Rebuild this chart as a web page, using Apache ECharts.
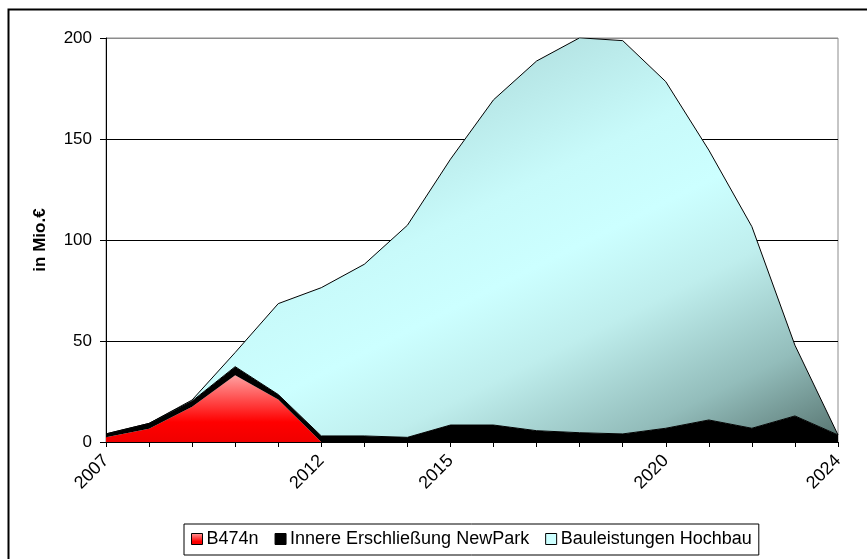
<!DOCTYPE html>
<html>
<head>
<meta charset="utf-8">
<script src="https://cdn.jsdelivr.net/npm/echarts@6/dist/echarts.min.js"></script>
<style>
html,body{margin:0;padding:0;background:#fff;}
#chart{width:867px;height:559px;}
</style>
</head>
<body>
<div id="chart"></div>
<script>
const years = ['2007','2008','2009','2010','2011','2012','2013','2014','2015','2016','2017','2018','2019','2020','2021','2022','2023','2024'];
const shownYears = ['2007','2012','2015','2020','2024'];
const seriesNames = ['B474n', 'Innere Erschließung NewPark', 'Bauleistungen Hochbau'];
const b474n = [2.3, 6.5, 17.5, 33, 21, 0, 0, 0, 0, 0, 0, 0, 0, 0, 0, 0, 0, 0];
const newPark = [1.7, 2.7, 2.8, 4.3, 2.5, 3, 3, 2.3, 8.4, 8.4, 5.6, 4.6, 4, 6.8, 10.9, 6.8, 12.9, 3.5];
const hochbau = [0, 0, 0.5, 7, 45, 73.4, 85, 105, 131.6, 161, 183, 195.5, 194.7, 171.6, 133.6, 99.8, 35, 0];
const yTicks = {min: 0, max: 200, interval: 50};

const FONT = '"Liberation Sans", Arial, sans-serif';
const chart = echarts.init(document.getElementById('chart'), null, {renderer: 'canvas'});

const redGrad = new echarts.graphic.LinearGradient(0, 0, 0, 1, [
  {offset: 0, color: '#ffa0a0'},
  {offset: 0.7, color: '#ff0000'},
  {offset: 1, color: '#f00000'}
]);
const blueGrad = new echarts.graphic.LinearGradient(112, 224, 344, 688, [
  {offset: 0, color: '#afdddd'},
  {offset: 0.29, color: '#c8fafa'},
  {offset: 0.44, color: '#ccffff'},
  {offset: 0.6, color: '#bfeeed'},
  {offset: 0.81, color: '#93bdbb'},
  {offset: 1, color: '#56736f'}
], true);

chart.setOption({
  backgroundColor: '#fff',
  animation: false,
  textStyle: {fontFamily: FONT},
  graphic: [{
    type: 'rect', left: 6, top: 7, z: 100, silent: true,
    shape: {width: 880, height: 580},
    style: {fill: 'none', stroke: '#000', lineWidth: 2}
  }],
  grid: {left: 106, right: 29, top: 38, bottom: 117, show: true, borderColor: '#8c8c8c', borderWidth: 1},
  legend: {
    left: 184, top: 524,
    padding: [6, 7, 7, 7],
    borderColor: '#000', borderWidth: 1,
    icon: 'rect', itemWidth: 11, itemHeight: 11, itemGap: 16,
    textStyle: {fontSize: 18, color: '#000', fontFamily: FONT, padding: [0, 0, 0, -1]},
    itemStyle: {borderColor: '#000', borderWidth: 1},
    data: seriesNames
  },
  xAxis: {
    type: 'category', data: years, boundaryGap: false,
    axisLine: {lineStyle: {color: '#000', width: 1}},
    axisTick: {show: true, interval: 0, length: 5, lineStyle: {color: '#000'}},
    axisLabel: {
      interval: 0, rotate: 45, margin: 16, fontSize: 18, color: '#000', fontFamily: FONT,
      formatter: v => shownYears.includes(v) ? v : ''
    },
    splitLine: {show: false}
  },
  yAxis: {
    type: 'value', min: yTicks.min, max: yTicks.max, interval: yTicks.interval,
    name: 'in Mio.€', nameLocation: 'middle', nameGap: 57,
    nameTextStyle: {fontSize: 17, fontWeight: 'bold', color: '#000', fontFamily: FONT},
    axisLine: {show: true, lineStyle: {color: '#000'}},
    axisTick: {show: true, length: 6, lineStyle: {color: '#000'}},
    axisLabel: {fontSize: 17, color: '#000', margin: 14, fontFamily: FONT},
    splitLine: {show: true, lineStyle: {color: ['#000', '#000', '#000', '#000', '#8c8c8c'], width: 1}}
  },
  series: [
    {
      name: seriesNames[0], type: 'line', stack: 'total', data: b474n,
      symbol: 'none', lineStyle: {width: 0}, itemStyle: {color: redGrad},
      areaStyle: {color: redGrad, opacity: 1}
    },
    {
      name: seriesNames[1], type: 'line', stack: 'total', data: newPark,
      symbol: 'none', lineStyle: {width: 1, color: '#000'}, itemStyle: {color: '#000'},
      areaStyle: {color: '#000', opacity: 1}
    },
    {
      name: seriesNames[2], type: 'line', stack: 'total', data: hochbau,
      symbol: 'none', lineStyle: {width: 1, color: '#000'}, itemStyle: {color: '#ccffff'},
      areaStyle: {color: blueGrad, opacity: 1}
    }
  ]
});
</script>
</body>
</html>
